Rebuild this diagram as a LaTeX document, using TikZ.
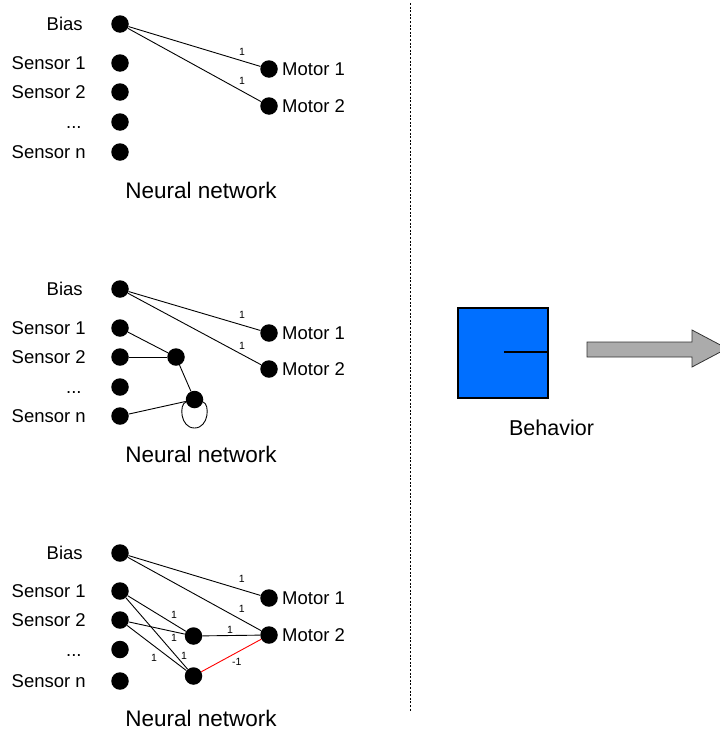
\documentclass[tikz,border=0pt]{standalone}
\usepackage{fontspec}
\setmainfont{Liberation Sans}
\definecolor{sqblue}{RGB}{0,111,255}
\definecolor{arrgray}{RGB}{171,171,171}
\begin{document}
\begin{tikzpicture}[x=1pt,y=-1pt,
  dot/.style={circle,fill=black,draw=none,minimum size=17.5pt,inner sep=0pt},
  lab/.style={inner sep=0pt,font=\fontsize{18.5}{20}\selectfont,text height=13.2pt,text depth=0pt},
  ttl/.style={inner sep=0pt,font=\fontsize{22.5}{25}\selectfont},
  wl/.style={inner sep=0pt,font=\fontsize{10.5}{12}\selectfont},
  conn/.style={draw=black,line width=0.9pt},
  neg/.style={draw=red,line width=0.9pt}]
\useasboundingbox (0,0) rectangle (720,731);
\clip (0,0) rectangle (720,731);

% ---------------- Panel 1 ----------------
\node[dot] (p1b) at (120,24) {};
\node[dot] (p1s1) at (120,63) {};
\node[dot] (p1s2) at (120,92) {};
\node[dot] (p1sd) at (120,122) {};
\node[dot] (p1sn) at (120,152) {};
\node[dot] (p1m1) at (269,69) {};
\node[dot] (p1m2) at (269,106) {};
\node[lab,anchor=west] (p1lb) at (46.5,24) {Bias};
\node[lab,anchor=west] (p1ls1) at (11.5,63) {Sensor 1};
\node[lab,anchor=west] (p1ls2) at (11.5,92) {Sensor 2};
\node[lab,anchor=west] (p1lsd) at (66,122) {...};
\node[lab,anchor=west] (p1lsn) at (11.5,152) {Sensor n};
\node[lab,anchor=west] (p1lm1) at (282,69) {Motor 1};
\node[lab,anchor=west] (p1lm2) at (282,106) {Motor 2};
\draw[conn] (p1b) -- (p1m1);
\draw[conn] (p1b) -- (p1m2);
\node[wl] (p1w1) at (242,52) {1};
\node[wl] (p1w2) at (242,81) {1};
\node[ttl] (p1t) at (201,190) {Neural network};

% ---------------- Panel 2 ----------------
\node[dot] (p2b) at (120,289) {};
\node[dot] (p2s1) at (120,328) {};
\node[dot] (p2s2) at (120,357) {};
\node[dot] (p2sd) at (120,387) {};
\node[dot] (p2sn) at (120,416) {};
\node[dot] (p2h1) at (176,357) {};
\node[dot] (p2h2) at (194.5,399.5) {};
\node[dot] (p2m1) at (269,333) {};
\node[dot] (p2m2) at (269,369) {};
\coordinate (p2loop) at (194.5,428);
\draw[conn] (p2h2) .. controls (179,404) and (180,428) .. (p2loop)
  .. controls (209,428) and (210,404) .. (p2h2);
\node[lab,anchor=west] (p2lb) at (46.5,289) {Bias};
\node[lab,anchor=west] (p2ls1) at (11.5,328) {Sensor 1};
\node[lab,anchor=west] (p2ls2) at (11.5,357) {Sensor 2};
\node[lab,anchor=west] (p2lsd) at (66,387) {...};
\node[lab,anchor=west] (p2lsn) at (11.5,416) {Sensor n};
\node[lab,anchor=west] (p2lm1) at (282,333) {Motor 1};
\node[lab,anchor=west] (p2lm2) at (282,369) {Motor 2};
\draw[conn] (p2b) -- (p2m1);
\draw[conn] (p2b) -- (p2m2);
\draw[conn] (p2s1) -- (p2h1);
\draw[conn] (p2s2) -- (p2h1);
\draw[conn] (p2h1) -- (p2h2);
\draw[conn] (p2sn) -- (p2h2);
\node[wl] (p2w1) at (242,315) {1};
\node[wl] (p2w2) at (242,346) {1};
\node[ttl] (p2t) at (201,454) {Neural network};

% ---------------- Panel 3 ----------------
\node[dot] (p3b) at (120,553) {};
\node[dot] (p3s1) at (120,591) {};
\node[dot] (p3s2) at (120,620) {};
\node[dot] (p3sd) at (120,649.5) {};
\node[dot] (p3sn) at (120,681) {};
\node[dot] (p3h1) at (193.5,636) {};
\node[dot] (p3h2) at (193.5,676) {};
\node[dot] (p3m1) at (269,598) {};
\node[dot] (p3m2) at (269,635) {};
\node[lab,anchor=west] (p3lb) at (46.5,553) {Bias};
\node[lab,anchor=west] (p3ls1) at (11.5,591) {Sensor 1};
\node[lab,anchor=west] (p3ls2) at (11.5,620) {Sensor 2};
\node[lab,anchor=west] (p3lsd) at (66,649.5) {...};
\node[lab,anchor=west] (p3lsn) at (11.5,681) {Sensor n};
\node[lab,anchor=west] (p3lm1) at (282,598) {Motor 1};
\node[lab,anchor=west] (p3lm2) at (282,635) {Motor 2};
\draw[conn] (p3b) -- (p3m1);
\draw[conn] (p3b) -- (p3m2);
\draw[conn] (p3s1) -- (p3h1);
\draw[conn] (p3s1) -- (p3h2);
\draw[conn] (p3s2) -- (p3h1);
\draw[conn] (p3s2) -- (p3h2);
\draw[conn] (p3h1) -- (p3m2);
\draw[neg] (p3h2) -- (p3m2);
\node[wl] (p3w1) at (241.7,579.3) {1};
\node[wl] (p3w2) at (241.7,609.3) {1};
\node[wl] (p3w3) at (174,615) {1};
\node[wl] (p3w4) at (174,638.3) {1};
\node[wl] (p3w5) at (230,630) {1};
\node[wl] (p3w6) at (154,658.3) {1};
\node[wl] (p3w7) at (184,656) {1};
\node[wl] (p3w8) at (236.7,661.7) {-1};
\node[ttl] (p3t) at (201,718) {Neural network};

% ---------------- Separator ----------------
\coordinate (dtop) at (410,3);
\coordinate (dbot) at (410,711);
\draw[line width=0.9pt,dash pattern=on 2pt off 1.6pt] (dtop) -- (dbot);

% ---------------- Behavior ----------------
\node[draw=black,line width=2pt,fill=sqblue,minimum size=90pt,inner sep=0pt] (robot) at (503,353) {};
\coordinate (sline) at (504,352);
\draw[line width=2pt] (sline) -- (robot.east |- sline);
\node[ttl,font=\fontsize{21.5}{24}\selectfont] (beh) at (551.5,427.5) {Behavior};
\draw[fill=arrgray,draw=black!80,line width=0.8pt]
  (587,342) -- (692,342) -- (692,330) -- (727,348.5) -- (692,367) -- (692,357) -- (587,357) -- cycle;
\end{tikzpicture}
\end{document}
